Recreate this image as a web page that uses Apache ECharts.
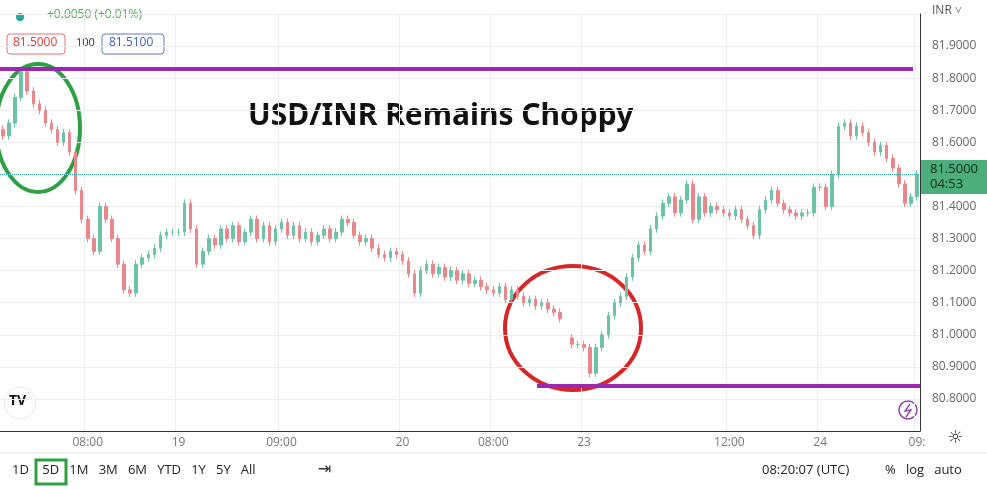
<!DOCTYPE html>
<html>
<head>
<meta charset="utf-8">
<script src="https://cdn.jsdelivr.net/npm/echarts@6/dist/echarts.min.js"></script>
<style>html,body{margin:0;padding:0;background:#fff}#main{width:987px;height:489px}</style>
</head>
<body>
<div id="main"></div>
<script>
// closes per 5D bar, null = no trading
var closes = [81.62,81.66,81.74,81.82,81.76,81.72,81.70,81.66,81.64,81.60,81.63,81.57,81.45,81.36,81.30,81.26,81.40,81.36,81.30,81.22,
81.14,81.13,81.22,81.24,81.25,81.27,81.31,81.32,81.32,81.32,81.41,81.33,81.22,81.26,81.30,81.28,81.33,81.30,81.34,81.29,
81.32,81.36,81.30,81.34,81.29,81.33,81.35,81.31,81.34,81.30,81.32,81.29,81.31,81.33,81.30,81.32,81.36,81.35,81.31,81.29,
81.30,81.27,81.25,81.24,81.26,81.25,81.23,81.19,81.13,81.20,81.22,81.19,81.21,81.18,81.20,81.17,81.19,81.16,81.17,81.15,
81.14,81.13,81.15,81.11,81.14,81.12,81.10,81.11,81.09,81.10,81.08,81.07,81.05,null,80.97,80.97,80.96,80.88,80.96,81.00,
81.06,81.10,81.12,81.18,81.24,81.28,81.26,81.33,81.37,81.41,81.43,81.38,81.42,81.47,81.36,81.43,81.38,81.40,81.39,81.38,
81.37,81.39,81.36,81.34,81.31,81.39,81.42,81.45,81.41,81.39,81.38,81.37,81.38,81.38,81.46,81.46,81.40,81.50,81.65,81.66,
81.62,81.65,81.63,81.60,81.57,81.59,81.55,81.52,81.47,81.41,81.43,81.50];
var tickLabels = {14:'08:00',29:'19',46:'09:00',66:'20',81:'08:00',96:'23',120:'12:00',135:'24',151:'09:'};
var resistance = 81.828, support = 80.841, lastPrice = 81.50;

var cats = closes.map(function (c, i) { return i; });
var ohlc = closes.map(function (c, i) {
  if (c == null) return '-';
  var o = i > 0 && closes[i - 1] != null ? closes[i - 1] : c + 0.02;
  return [o, c, Math.min(o, c) - 0.012, Math.max(o, c) + 0.012];
});
var showTick = function (i) { return tickLabels[i] !== undefined; };

var myChart = echarts.init(document.getElementById('main'), null, {renderer: 'canvas'});
var option = {
  animation: false,
  grid: {left: 0, right: 67, top: 14, bottom: 58},
  xAxis: {
    type: 'category', data: cats, boundaryGap: true,
    axisLine: {lineStyle: {color: '#333'}}, axisTick: {show: false},
    axisLabel: {interval: function (i) { return showTick(i); }, formatter: function (v) { return tickLabels[v]; },
      color: '#777', fontFamily: 'Open Sans', fontSize: 12, margin: 6},
    splitLine: {show: true, interval: function (i) { return showTick(i); }, lineStyle: {color: '#eceef2'}}
  },
  yAxis: {
    type: 'value', position: 'right', min: 80.7, max: 82.0, interval: 0.1, scale: true,
    axisLine: {show: true, lineStyle: {color: '#333'}}, axisTick: {show: false},
    axisLabel: {color: '#666', fontFamily: 'Open Sans', fontSize: 12, margin: 12,
      formatter: function (v) { return (v > 81.95 || v < 80.75 || Math.abs(v - 81.5) < 0.01) ? '' : v.toFixed(4); }},
    splitLine: {lineStyle: {color: '#eceef2'}}
  },
  series: [{
    type: 'candlestick', data: ohlc, barWidth: 3,
    itemStyle: {color: '#6cc3a8', color0: '#e9878a', borderColor: '#6cc3a8', borderColor0: '#e9878a'},
    markLine: {
      symbol: 'none', silent: true, label: {show: false},
      data: [
        [{x: 0, yAxis: resistance, lineStyle: {color: '#9c27b0', width: 4, type: 'solid'}}, {x: 913, yAxis: resistance}],
        [{x: 537, yAxis: support, lineStyle: {color: '#9c27b0', width: 4, type: 'solid'}}, {x: 920, yAxis: support}],
        {yAxis: lastPrice, lineStyle: {color: '#26a69a', width: 1, type: 'dotted'}}
      ]
    }
  }],
  graphic: [
    {type: 'ellipse', shape: {cx: 38, cy: 128, rx: 42, ry: 64}, style: {fill: 'none', stroke: '#2ea043', lineWidth: 4}},
    {type: 'ellipse', shape: {cx: 573, cy: 328, rx: 68, ry: 62}, style: {fill: 'none', stroke: '#d62728', lineWidth: 4}},
    {type: 'text', left: 248, top: 101, style: {text: 'USD/INR Remains Choppy', font: 'bold 30px "Noto Sans"', fill: '#111'}},
    {type: 'circle', shape: {cx: 20, cy: 17, r: 4}, style: {fill: '#26a69a'}},
    {type: 'text', left: 47, top: 9, style: {text: '+0.0050 (+0.01%)', font: '12px "Open Sans"', fill: '#4caf50'}},
    {type: 'rect', shape: {x: 7, y: 34, width: 58, height: 20, r: 3}, style: {fill: '#fff', stroke: '#e57373'}},
    {type: 'text', left: 13, top: 37, style: {text: '81.5000', font: '12px "Open Sans"', fill: '#e53935'}},
    {type: 'text', left: 76, top: 37, style: {text: '100', font: '11px "Open Sans"', fill: '#333'}},
    {type: 'rect', shape: {x: 102, y: 34, width: 62, height: 20, r: 3}, style: {fill: '#fff', stroke: '#5c7cc4'}},
    {type: 'text', left: 109, top: 37, style: {text: '81.5100', font: '12px "Open Sans"', fill: '#3f5fb0'}},
    {type: 'text', left: 932, top: 5, style: {text: 'INR ˅', font: '12px "Open Sans"', fill: '#555'}},
    {type: 'rect', shape: {x: 921, y: 160, width: 66, height: 34}, style: {fill: '#4cae7c'}},
    {type: 'text', left: 930, top: 162, style: {text: '81.5000\n04:53', font: '13px "Open Sans"', lineHeight: 15, fill: '#0b2a17'}},
    {type: 'circle', shape: {cx: 20, cy: 403, r: 16}, style: {fill: '#fff', stroke: '#e8e8e8'}},
    {type: 'text', left: 9, top: 394, style: {text: 'TV', font: 'bold 14px "Open Sans"', fill: '#111'}},
    {type: 'circle', shape: {cx: 908, cy: 410, r: 9}, style: {fill: '#fff', stroke: '#8e44ad', lineWidth: 1.5}},
    {type: 'polyline', shape: {points: [[910, 404], [905, 411], [911, 410], [906, 417]]}, style: {stroke: '#8e44ad', fill: 'none', lineWidth: 1.3}},
    {type: 'text', left: 947, top: 429, style: {text: '☼', font: '18px "DejaVu Sans"', fill: '#333'}},
    {type: 'line', shape: {x1: 0, y1: 453, x2: 987, y2: 453}, style: {stroke: '#e0e3eb'}},
    {type: 'rect', shape: {x: 36, y: 460, width: 30, height: 24}, style: {fill: 'none', stroke: '#2ea043', lineWidth: 3}},
    {type: 'text', left: 12, top: 464, style: {text: '1D    5D   1M   3M   6M   YTD   1Y   5Y   All', font: '13px "Open Sans"', fill: '#222'}},
    {type: 'text', left: 318, top: 462, style: {text: '⇥', font: '16px "DejaVu Sans"', fill: '#333'}},
    {type: 'text', left: 762, top: 464, style: {text: '08:20:07 (UTC)', font: '13px "Open Sans"', fill: '#222'}},
    {type: 'text', left: 885, top: 464, style: {text: '%   log   auto', font: '13px "Open Sans"', fill: '#222'}}
  ]
};
myChart.setOption(option);
</script>
</body>
</html>
